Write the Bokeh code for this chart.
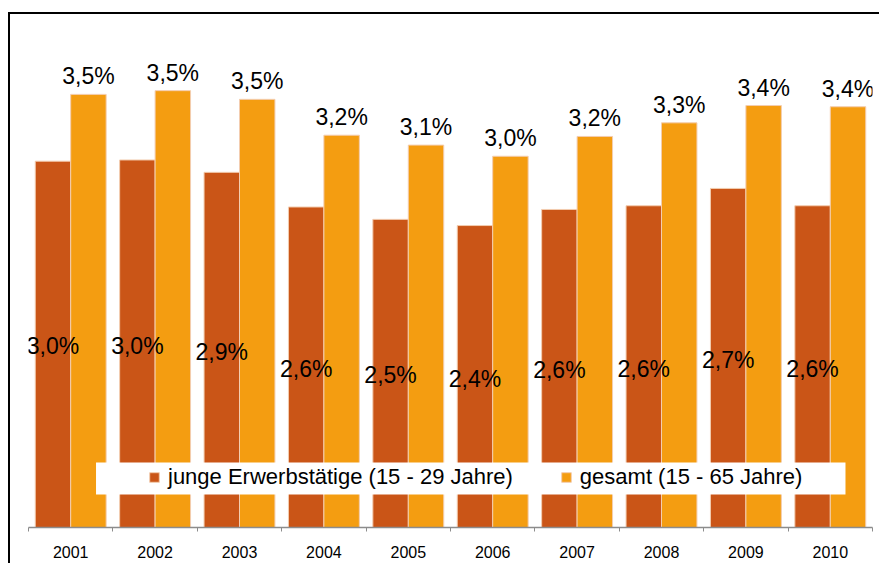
from bokeh.plotting import figure
from bokeh.models import (ColumnDataSource, FixedTicker, Legend, LegendItem,
                          BoxAnnotation)
from bokeh.transform import dodge
from bokeh.core.properties import value
from bokeh.embed import file_html
from bokeh.resources import INLINE

# Jahre (Kategorien) und Quoten in Prozent
years = [2001, 2002, 2003, 2004, 2005, 2006, 2007, 2008, 2009, 2010]
year_labels = ["2001", "2002", "2003", "2004", "2005",
               "2006", "2007", "2008", "2009", "2010"]
junge = [2.96, 2.97, 2.87, 2.59, 2.49, 2.44, 2.57, 2.60, 2.74, 2.60]
gesamt = [3.50, 3.53, 3.46, 3.17, 3.09, 3.00, 3.16, 3.27, 3.41, 3.40]

series_names = ["junge Erwerbstätige (15 - 29 Jahre)", "gesamt (15 - 65 Jahre)"]

RED = "#CA5517"
ORANGE = "#F49D11"
EDGE = "#F3CDB0"
FONT = "Liberation Sans"


def fmt(v):
    return f"{v:.1f}".replace(".", ",") + "%"


src = ColumnDataSource(dict(
    year=years,
    junge=junge,
    gesamt=gesamt,
    junge_half=[v / 2 for v in junge],
    junge_lbl=[fmt(v) for v in junge],
    gesamt_lbl=[fmt(v) for v in gesamt],
))

p = figure(width=871, height=551,
           x_range=(2000.5, 2010.5), y_range=(0, 4.097),
           output_backend="svg", toolbar_location=None,
           y_axis_location=None,
           min_border_left=18, min_border_right=9,
           min_border_top=6, min_border_bottom=38)
p.styles = {"margin-left": "8px", "margin-top": "12px",
            "border-left": "2px solid black", "border-top": "2px solid black"}
p.outline_line_color = None
p.xgrid.visible = False
p.ygrid.visible = False
p.background_fill_color = "white"
p.border_fill_color = "white"

bw = 0.42
off = 0.21
r_junge = p.vbar(x=dodge("year", -off), top="junge", width=bw, source=src,
                 fill_color=RED, line_color=EDGE, line_width=1)
r_gesamt = p.vbar(x=dodge("year", off), top="gesamt", width=bw, source=src,
                  fill_color=ORANGE, line_color=EDGE, line_width=1)

# Werte: junge in Balkenmitte, gesamt über dem Balken
p.text(x=dodge("year", -off), y="junge_half", text="junge_lbl", source=src,
       text_align="center", text_baseline="middle", y_offset=2,
       text_font=value(FONT), text_font_size="23px", text_color="black")
p.text(x=dodge("year", off), y="gesamt", text="gesamt_lbl", source=src,
       text_align="center", text_baseline="bottom", y_offset=-5,
       text_font=value(FONT), text_font_size="23px", text_color="black")

# x-Achse: Beschriftung in der Mitte, Striche an den Kategoriegrenzen
ax = p.xaxis[0]
ax.ticker = FixedTicker(ticks=years,
                        minor_ticks=[y - 0.5 for y in years] + [years[-1] + 0.5])
ax.major_label_overrides = {y: lbl for y, lbl in zip(years, year_labels)}
ax.major_tick_in = 0
ax.major_tick_out = 0
ax.minor_tick_in = 0
ax.minor_tick_out = 4
ax.minor_tick_line_color = "#8C8C8C"
ax.axis_line_color = "#8C8C8C"
ax.axis_line_width = 1.5
ax.major_label_standoff = 14
ax.major_label_text_font = FONT
ax.major_label_text_font_size = "16px"
ax.major_label_text_color = "black"

# Legendenfeld
p.add_layout(BoxAnnotation(left=2001.30, right=2010.18, bottom=0.267, top=0.525,
                           fill_color="white", fill_alpha=1, line_color=None,
                           level="overlay"))
legend = Legend(items=[LegendItem(label=series_names[0], renderers=[r_junge]),
                       LegendItem(label=series_names[1], renderers=[r_gesamt])],
                orientation="horizontal", location=(120, 37),
                background_fill_alpha=0, border_line_color=None,
                padding=0, margin=0, spacing=47,
                glyph_width=12, glyph_height=12, label_standoff=8,
                label_text_font=FONT, label_text_font_size="22px",
                label_text_color="black")
p.add_layout(legend)

open("out.html", "w").write(file_html(p, INLINE))
